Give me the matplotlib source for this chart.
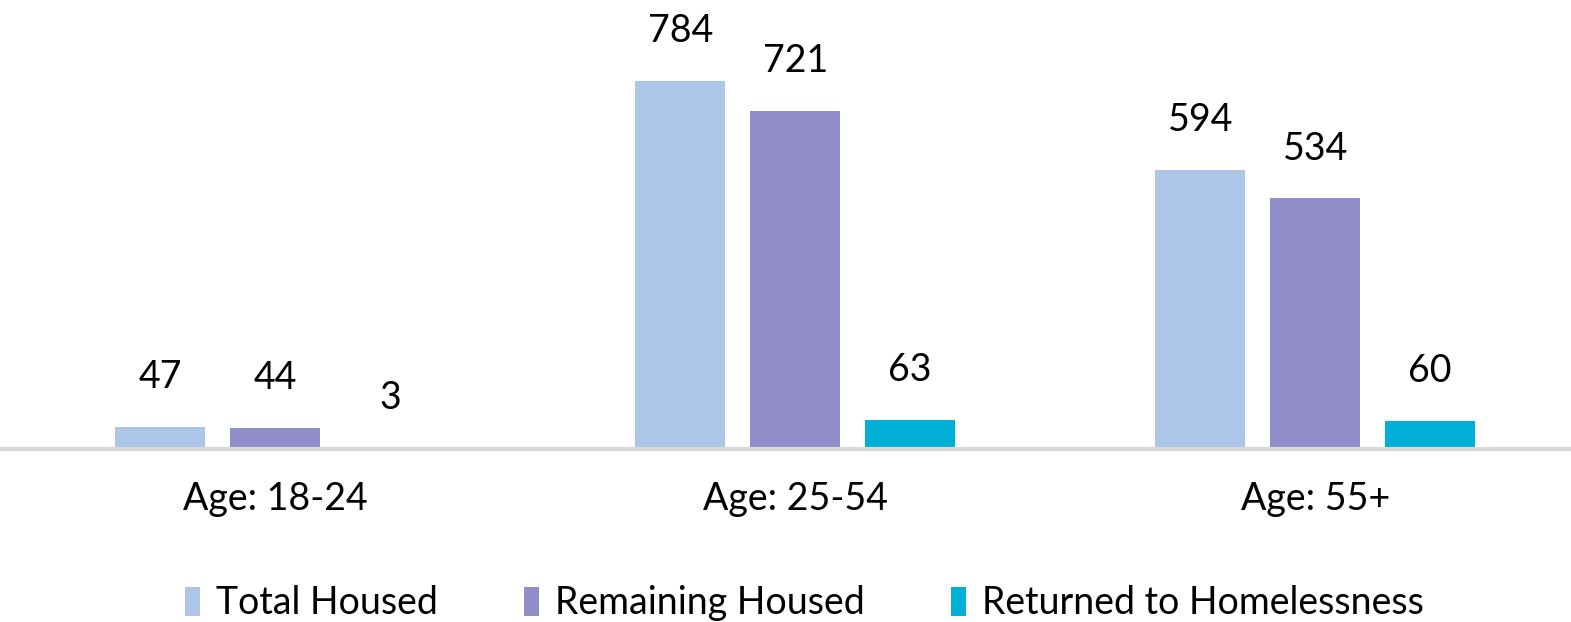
import numpy as np
import matplotlib.pyplot as plt
from matplotlib.patches import Patch

# Datos
categorias = ['Age: 18-24', 'Age: 25-54', 'Age: 55+']
series = ['Total Housed', 'Remaining Housed', 'Returned to Homelessness']
total_housed = [47, 784, 594]
remaining_housed = [44, 721, 534]
returned = [3, 63, 60]
colores = ['#ADC5E7', '#908DC8', '#00B0D7']

plt.rcParams['font.family'] = ['Lato', 'DejaVu Sans']

fig = plt.figure(figsize=(15.71, 6.22), dpi=100)
ax = fig.add_axes([0, 0.278, 1, 0.722])

x = np.arange(len(categorias))
ancho = 0.173
paso = 0.221
valores = [total_housed, remaining_housed, returned]

for i, (vals, color) in enumerate(zip(valores, colores)):
    barras = ax.bar(x + (i - 1) * paso, vals, width=ancho, color=color, zorder=2)
    for b, v in zip(barras, vals):
        ax.annotate(str(v), (b.get_x() + b.get_width() / 2, v),
                    xytext=(0, 23), textcoords='offset points',
                    ha='center', va='bottom', fontsize=27, color='black')

ax.set_xlim(-0.529, 2.492)
ax.set_ylim(0, 957)
ax.set_xticks(x)
ax.set_xticklabels(categorias, fontsize=27)
ax.tick_params(axis='x', length=0, pad=23)
ax.set_yticks([])
for lado in ['top', 'right', 'left']:
    ax.spines[lado].set_visible(False)
ax.spines['bottom'].set_color('#D9D9D9')
ax.spines['bottom'].set_linewidth(3)

handles = [Patch(facecolor=c, label=s) for c, s in zip(colores, series)]
fig.legend(handles=handles, loc='center', bbox_to_anchor=(0.512, 0.03),
           ncol=3, frameon=False, fontsize=27, handlelength=0.4,
           handleheight=0.8, handletextpad=0.43, columnspacing=2.3)

fig.savefig('out.png', dpi=100)
